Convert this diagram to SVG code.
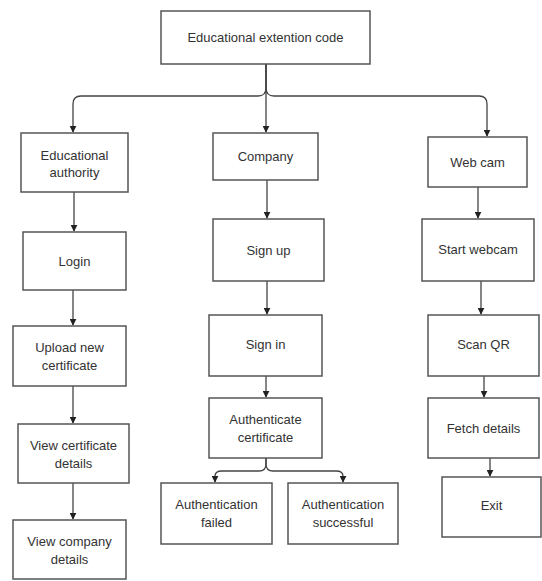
<svg xmlns="http://www.w3.org/2000/svg" width="542" height="581" viewBox="0 0 542 581">
<defs>
<style>
.box{fill:#fff;stroke:#555;stroke-width:1.5}
.t{font-family:"Liberation Sans",Arial,sans-serif;font-size:13px;fill:#333;text-anchor:middle;dominant-baseline:central}
.c{fill:none;stroke:#444;stroke-width:1.3}
</style>
<marker id="ah" viewBox="0 0 10 10" refX="9" refY="5" markerWidth="7" markerHeight="7" orient="auto" markerUnits="userSpaceOnUse">
<path d="M0,0 L10,5 L0,10 z" fill="#222"/>
</marker>
</defs>
<rect width="542" height="581" fill="#fff"/>
<g id="connectors">
<path class="c" d="M266,64 V88 Q266,96 258,96 H81 Q73,96 73,104 V132" marker-end="url(#ah)"/>
<path class="c" d="M266,64 V88 Q266,96 274,96 H479 Q487,96 487,104 V136" marker-end="url(#ah)"/>
<path class="c" d="M266,64 V132" marker-end="url(#ah)"/>
<path class="c" d="M74,192 V231" marker-end="url(#ah)"/>
<path class="c" d="M73,290 V325" marker-end="url(#ah)"/>
<path class="c" d="M73,386 V423" marker-end="url(#ah)"/>
<path class="c" d="M73,483 V519" marker-end="url(#ah)"/>
<path class="c" d="M267,180 V218" marker-end="url(#ah)"/>
<path class="c" d="M267,281 V314" marker-end="url(#ah)"/>
<path class="c" d="M266,376 V397" marker-end="url(#ah)"/>
<path class="c" d="M266,458 V464 Q266,471 259,471 H222 Q215,471 215,476 V482" marker-end="url(#ah)"/>
<path class="c" d="M266,458 V464 Q266,471 273,471 H336 Q343,471 343,476 V482" marker-end="url(#ah)"/>
<path class="c" d="M478,187 V218" marker-end="url(#ah)"/>
<path class="c" d="M481,281 V314" marker-end="url(#ah)"/>
<path class="c" d="M484,376 V397" marker-end="url(#ah)"/>
<path class="c" d="M490,458 V476" marker-end="url(#ah)"/>
</g>
<g id="n_root"><rect class="box" x="161" y="11" width="209" height="53"/><text class="t" x="265.5" y="37.5">Educational extention code</text></g>
<g id="n_edu"><rect class="box" x="21" y="133" width="107" height="59"/><text class="t" x="74.5" y="155">Educational</text><text class="t" x="74.5" y="172">authority</text></g>
<g id="n_login"><rect class="box" x="23" y="232" width="103" height="58"/><text class="t" x="74.5" y="261">Login</text></g>
<g id="n_upload"><rect class="box" x="13" y="326" width="113" height="60"/><text class="t" x="69.5" y="347">Upload new</text><text class="t" x="69.5" y="365">certificate</text></g>
<g id="n_viewcert"><rect class="box" x="18" y="424" width="111" height="59"/><text class="t" x="73.5" y="445">View certificate</text><text class="t" x="73.5" y="463">details</text></g>
<g id="n_viewcomp"><rect class="box" x="13" y="520" width="113" height="59"/><text class="t" x="69.5" y="541">View company</text><text class="t" x="69.5" y="559">details</text></g>
<g id="n_company"><rect class="box" x="213" y="133" width="105" height="47"/><text class="t" x="265.5" y="156.5">Company</text></g>
<g id="n_signup"><rect class="box" x="213" y="219" width="111" height="62"/><text class="t" x="268.5" y="250">Sign up</text></g>
<g id="n_signin"><rect class="box" x="209" y="315" width="113" height="61"/><text class="t" x="265.5" y="344">Sign in</text></g>
<g id="n_auth"><rect class="box" x="209" y="398" width="113" height="60"/><text class="t" x="265.5" y="419">Authenticate</text><text class="t" x="265.5" y="437">certificate</text></g>
<g id="n_failed"><rect class="box" x="161" y="483" width="111" height="61"/><text class="t" x="216.5" y="504">Authentication</text><text class="t" x="216.5" y="522">failed</text></g>
<g id="n_success"><rect class="box" x="288" y="483" width="110" height="61"/><text class="t" x="343" y="504">Authentication</text><text class="t" x="343" y="522">successful</text></g>
<g id="n_webcam"><rect class="box" x="428" y="137" width="99" height="50"/><text class="t" x="477.5" y="162">Web cam</text></g>
<g id="n_start"><rect class="box" x="422" y="219" width="112" height="62"/><text class="t" x="478" y="249">Start webcam</text></g>
<g id="n_scan"><rect class="box" x="428" y="315" width="111" height="61"/><text class="t" x="483.5" y="344">Scan QR</text></g>
<g id="n_fetch"><rect class="box" x="428" y="398" width="111" height="60"/><text class="t" x="483.5" y="428">Fetch details</text></g>
<g id="n_exit"><rect class="box" x="442" y="477" width="99" height="60"/><text class="t" x="491.5" y="505">Exit</text></g>
</svg>
